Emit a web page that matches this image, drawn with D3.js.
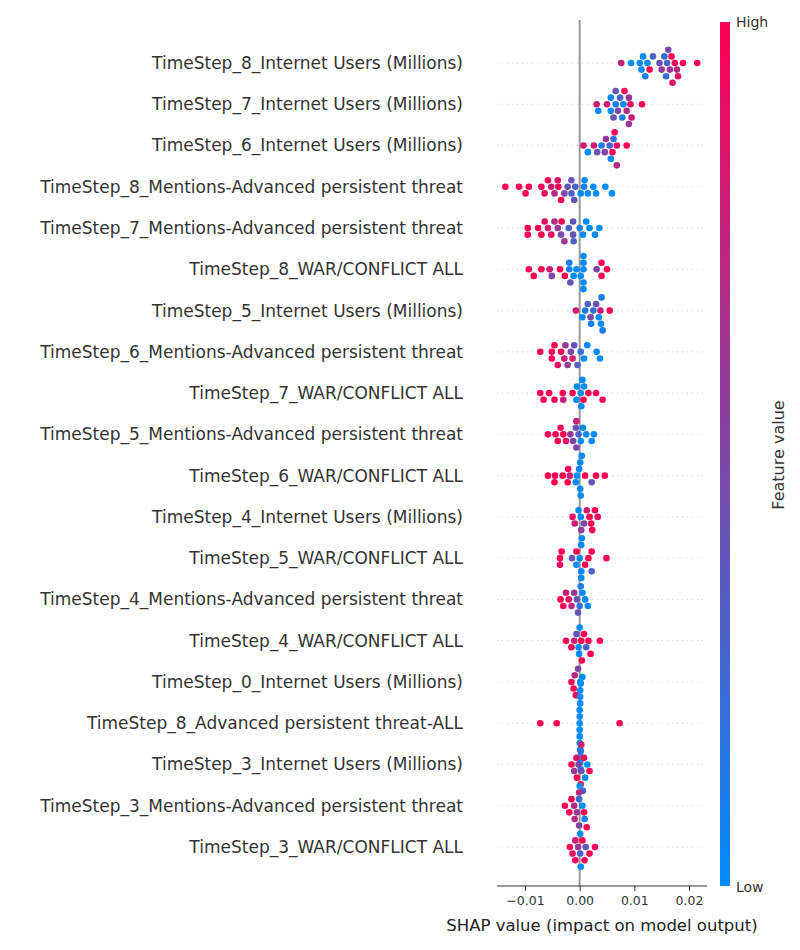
<!DOCTYPE html>
<html>
<head>
<meta charset="utf-8">
<script src="https://cdn.jsdelivr.net/npm/d3@7"></script>
<style>
  body { margin: 0; background: #fff; }
  text { font-family: "DejaVu Sans", sans-serif; }
</style>
</head>
<body>
<svg id="chart" width="800" height="950"></svg>
<script>
// features, top to bottom
const features = [
  "TimeStep_8_Internet Users (Millions)",
  "TimeStep_7_Internet Users (Millions)",
  "TimeStep_6_Internet Users (Millions)",
  "TimeStep_8_Mentions-Advanced persistent threat",
  "TimeStep_7_Mentions-Advanced persistent threat",
  "TimeStep_8_WAR/CONFLICT ALL",
  "TimeStep_5_Internet Users (Millions)",
  "TimeStep_6_Mentions-Advanced persistent threat",
  "TimeStep_7_WAR/CONFLICT ALL",
  "TimeStep_5_Mentions-Advanced persistent threat",
  "TimeStep_6_WAR/CONFLICT ALL",
  "TimeStep_4_Internet Users (Millions)",
  "TimeStep_5_WAR/CONFLICT ALL",
  "TimeStep_4_Mentions-Advanced persistent threat",
  "TimeStep_4_WAR/CONFLICT ALL",
  "TimeStep_0_Internet Users (Millions)",
  "TimeStep_8_Advanced persistent threat-ALL",
  "TimeStep_3_Internet Users (Millions)",
  "TimeStep_3_Mentions-Advanced persistent threat",
  "TimeStep_3_WAR/CONFLICT ALL"
];

// [shap value, feature value (0 low .. 1 high)] per feature
const ts8Internet = [[0.0076,.75],[0.0094,0],[0.011,0],[0.0113,0],[0.0116,0],[0.012,0.1],[0.0124,0],[0.0128,1],[0.0134,0.3],[0.0146,0.4],[0.015,0.6],[0.0155,0.2],[0.016,0.3],[0.0165,0.6],[0.0168,1],[0.017,0.9],[0.0174,1],[0.0178,0.7],[0.018,0.9],[0.0189,1],[0.0215,1],[0.0158,0.2],[0.0162,0.5]];
const ts7Internet = [[0.0031,.8],[0.0034,0],[0.005,.8],[0.0057,0],[0.0062,.4],[0.0066,.1],[0.007,.5],[0.0074,.3],[0.0078,.1],[0.0082,1],[0.0086,.7],[0.009,.6],[0.0095,.8],[0.0114,1],[0.0057,0],[0.0066,.4],[0.009,.6],[0.0093,.9],[0.008,0]];
const ts6Internet = [[0.0007,.8],[0.0015,0],[0.0026,.8],[0.0032,.4],[0.004,.1],[0.0046,.5],[0.0055,.3],[0.006,1],[0.0064,1],[0.0068,.9],[0.0086,1],[0.0048,.6],[0.0062,.2],[0.0068,.7],[0.0057,0]];
const ts8Mentions = [[-0.0136,1],[-0.0111,1],[-0.0099,1],[-0.0093,1],[-0.007,1],[-0.0064,.9],[-0.0058,1],[-0.0052,.8],[-0.0046,.7],[-0.004,.9],[-0.0034,1],[-0.0028,.5],[-0.0022,.4],[-0.0015,.3],[-0.001,.4],[0.0002,0],[0.0008,.1],[0.0015,0],[0.0025,0],[0.003,0],[0.0047,0],[0.0059,0],[-0.0039,1],[-0.0015,.4],[-0.0008,.3],[0.0009,0]];
const ts7Mentions = [[-0.0095,1],[-0.0095,1],[-0.0076,1],[-0.007,1],[-0.0064,.9],[-0.0058,.8],[-0.0052,.9],[-0.0046,.7],[-0.004,.6],[-0.0034,.5],[-0.0028,.6],[-0.002,.3],[-0.0012,.4],[0,.1],[0.0006,0],[0.0012,0],[0.0018,0],[0.0028,0],[0.0036,0],[-0.0033,1],[-0.0011,.3],[-0.0012,.4]];
const ts8War = [[-0.0093,1],[-0.0084,1],[-0.007,1],[-0.0055,.8],[-0.0051,.5],[-0.0036,1],[-0.0027,1],[-0.0019,.1],[-0.0011,0],[-0.0006,0],[0.0002,0],[0.0007,0],[0.0031,.5],[0.004,1],[0.005,1],[-0.0019,.1],[0.0007,0],[0.004,1],[-0.0017,.4],[0.0007,0],[0.0007,0],[0.0007,0]];
const ts5Internet = [[-0.0007,.8],[0.0005,0],[0.001,.1],[0.0015,.3],[0.002,.5],[0.0025,.2],[0.003,.4],[0.0035,0],[0.004,.1],[0.0055,1],[0.0021,.1],[0.0039,0],[0.0042,.1],[0.0038,.8]];
const ts6Mentions = [[-0.0072,1],[-0.0051,1],[-0.0046,1],[-0.004,.9],[-0.0034,1],[-0.0028,.8],[-0.0022,.6],[-0.0016,.5],[-0.001,.4],[-0.0004,.3],[0.0002,.2],[0.0008,0],[0.0014,0],[0.0031,0],[0.0037,0],[-0.0051,1],[-0.0026,.6],[-0.0013,.8]];
const ts7War = [[-0.0072,1],[-0.0066,1],[-0.0056,1],[-0.0046,1],[-0.0031,1],[-0.0013,1],[-0.0005,0],[0.0002,0],[0.0008,0],[0.0016,1],[0.003,1],[0.0042,1],[-0.003,.8],[-0.0006,0],[0.0003,0],[0.0007,1],[0.0005,0]];
const ts5Mentions = [[-0.0058,1],[-0.0044,1],[-0.004,1],[-0.0035,.9],[-0.003,1],[-0.0025,.9],[-0.0017,.6],[-0.0012,.5],[-0.0007,.4],[-0.0002,.3],[0.0006,0],[0.0012,0],[0.0022,0],[0.0026,0],[-0.0006,.5],[0.0002,0],[-0.0006,.8]];
const ts6War = [[-0.0058,1],[-0.0046,1],[-0.0031,1],[-0.0022,1],[-0.0018,.8],[-0.0007,0],[-0.0001,0],[0.0004,0],[0.001,1],[0.0022,.4],[0.003,1],[0.0046,1],[-0.0045,1],[-0.0021,1],[-0.0005,0],[0.0001,0],[0.0001,0],[0.0002,0]];
const ts4Internet = [[-0.0013,.9],[-0.0009,.8],[-0.0002,0],[0.0003,.6],[0.0008,.5],[0.0013,.8],[0.0018,1],[0.0023,1],[0.0028,1],[0.0033,.9],[0.0002,0],[0.0021,1]];
const ts5War = [[-0.0036,1],[-0.0033,1],[-0.0014,.4],[-0.0006,0],[0,0],[0.0004,0],[0.001,1],[0.0016,1],[0.0022,1],[0.0049,1],[-0.0036,1],[-0.0006,1],[0.0003,0],[0.0022,.3],[0.0003,0],[0.0003,0]];
const ts4Mentions = [[-0.0035,1],[-0.003,1],[-0.0025,.8],[-0.002,.9],[-0.0015,.7],[-0.001,.6],[-0.0005,.4],[0,.2],[0.0005,0],[0.001,0],[0.0015,0],[-0.0003,.4],[0.0002,.1]];
const ts4War = [[-0.0025,1],[-0.0015,1],[-0.001,.8],[-0.0006,.4],[-0.0002,0],[0.0003,1],[0.0008,1],[0.0012,.3],[0.0016,1],[0.002,1],[0.0037,1],[-0.0001,0],[0.0004,1],[0,0]];
const ts0Internet = [[-0.0015,1],[-0.0011,1],[-0.0007,.9],[-0.0003,.5],[0.0001,0],[-0.0009,.7]];
const ts8AptAll = [[-0.0072,1],[-0.0042,1],[0.0073,1],[0,0],[0,0],[0,0],[0,0],[0,0],[0,0],[0.0001,0],[0.0001,0],[0.0001,0],[0.0001,0],[0.0001,0],[0.0001,0],[0.0002,0],[0.0002,0],[0.0005,0]];
const ts3Internet = [[-0.0015,1],[-0.001,.6],[-0.0006,.9],[-0.0002,.5],[0.0002,.2],[0.0006,.3],[0.001,0],[0.0014,0],[0.0018,1],[-0.0005,1],[0.0002,1],[0.0008,1],[0.0003,.4],[0.0003,.8]];
const ts3Mentions = [[-0.0027,1],[-0.0019,1],[-0.0015,1],[-0.001,.7],[-0.0005,.6],[0,0],[0.0005,0],[0.0009,.1],[-0.0009,.7],[-0.0001,.2],[0.0008,1],[-0.0001,.7],[-0.0001,.5]];
const ts3War = [[-0.0018,1],[-0.0013,.9],[-0.0008,.8],[-0.0003,.6],[0.0001,.3],[0.0005,1],[0.0009,1],[0.0013,1],[0.0018,1],[0.0028,1],[-0.0008,1],[0.0001,0],[0.0011,.4],[0.0002,0]];

const series = [ts8Internet, ts7Internet, ts6Internet, ts8Mentions, ts7Mentions, ts8War,
  ts5Internet, ts6Mentions, ts7War, ts5Mentions, ts6War, ts4Internet, ts5War,
  ts4Mentions, ts4War, ts0Internet, ts8AptAll, ts3Internet, ts3Mentions, ts3War];

const xTicks = [-0.01, 0, 0.01, 0.02];

const svg = d3.select("#chart");
const plotLeft = 497, plotRight = 707, plotTop = 20, plotBottom = 886;

const x = d3.scaleLinear().domain([-0.01, 0.02]).range([525, 689]);
const y = d3.scalePoint().domain(features).range([63, 847]);
const color = d3.interpolateRgb("#008bfb", "#ff0052");

// row guide lines
svg.append("g").selectAll("line").data(features).enter().append("line")
  .attr("x1", plotLeft).attr("x2", plotRight)
  .attr("y1", d => y(d)).attr("y2", d => y(d))
  .attr("stroke", "#ccc").attr("stroke-width", 1).attr("stroke-dasharray", "1,4");

// zero line
svg.append("line").attr("x1", x(0)).attr("x2", x(0)).attr("y1", plotTop).attr("y2", plotBottom)
  .attr("stroke", "#999").attr("stroke-width", 2);

// swarm layout
const r = 3.3, gap = 6.6;
const dots = [];
series.forEach((pts, i) => {
  const cy = y(features[i]);
  const placed = [];
  pts.slice().sort((a, b) => a[0] - b[0]).forEach(p => {
    const px = x(p[0]);
    let off = 0;
    for (let k = 0; k < 40; k++) {
      const cand = k === 0 ? 0 : (k % 2 ? 1 : -1) * Math.ceil(k / 2) * gap;
      const hit = placed.some(q => Math.abs(q.x - px) < gap && Math.abs(q.off - cand) < gap * 0.9);
      if (!hit) { off = cand; break; }
    }
    placed.push({ x: px, off: off });
    dots.push({ x: px, y: cy + off, v: p[1] });
  });
});

svg.append("g").selectAll("circle").data(dots).enter().append("circle")
  .attr("cx", d => d.x).attr("cy", d => d.y).attr("r", r)
  .attr("fill", d => color(d.v));

// y labels
const yAxis = svg.append("g").attr("transform", `translate(${plotLeft},0)`)
  .call(d3.axisLeft(y).tickSize(0).tickPadding(34));
yAxis.select(".domain").remove();
yAxis.selectAll("text").attr("font-size", 17).attr("fill", "#333")
  .attr("font-family", "DejaVu Sans, sans-serif");

// x axis
const xAxis = svg.append("g").attr("transform", `translate(0,${plotBottom})`)
  .call(d3.axisBottom(x).tickValues(xTicks).tickFormat(d3.format(".2f")).tickSize(5));
xAxis.select(".domain").attr("d", `M${plotLeft},0H${plotRight}`).attr("stroke", "#333");
xAxis.selectAll(".tick line").attr("stroke", "#333");
xAxis.selectAll("text").attr("font-size", 12.5).attr("fill", "#333")
  .attr("font-family", "DejaVu Sans, sans-serif").attr("dy", "0.9em");

svg.append("text").attr("x", 602).attr("y", 931).attr("text-anchor", "middle")
  .attr("font-size", 16.5).attr("fill", "#222").text("SHAP value (impact on model output)");

// colour bar
const defs = svg.append("defs");
const grad = defs.append("linearGradient").attr("id", "cb").attr("x1", 0).attr("x2", 0).attr("y1", 1).attr("y2", 0);
d3.range(0, 1.01, 0.1).forEach(t => grad.append("stop").attr("offset", t).attr("stop-color", color(t)));
svg.append("rect").attr("x", 720).attr("y", 22).attr("width", 10).attr("height", 864).attr("fill", "url(#cb)");
svg.append("text").attr("x", 736).attr("y", 27).attr("font-size", 14).attr("fill", "#333").text("High");
svg.append("text").attr("x", 736).attr("y", 892).attr("font-size", 14).attr("fill", "#333").text("Low");
svg.append("text").attr("transform", "translate(784,455) rotate(-90)").attr("text-anchor", "middle")
  .attr("font-size", 16).attr("fill", "#333").text("Feature value");
</script>
</body>
</html>
